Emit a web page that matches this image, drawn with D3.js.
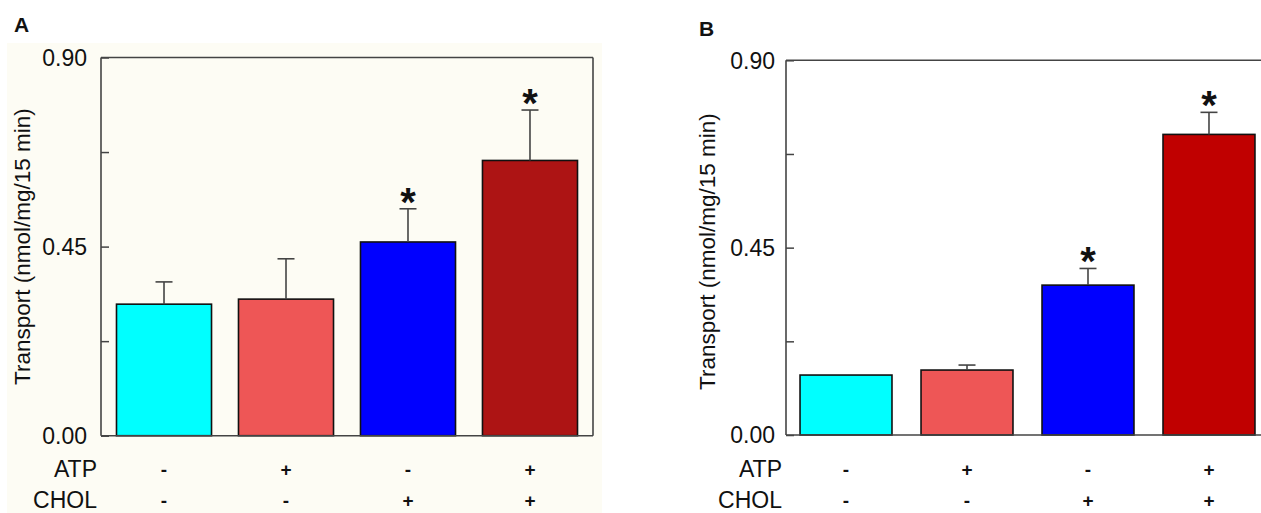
<!DOCTYPE html>
<html>
<head>
<meta charset="utf-8">
<script src="https://cdn.jsdelivr.net/npm/d3@7"></script>
<style>
  html, body { margin: 0; padding: 0; background: #ffffff; }
  svg { display: block; }
  text { font-family: "Liberation Sans", Arial, sans-serif; fill: #111; }
</style>
</head>
<body>
<svg id="chart" width="1261" height="513"></svg>
<script>
// ---------- data ----------
const categories = ["c1", "c2", "c3", "c4"];
const atpSigns  = ["-", "+", "-", "+"];
const cholSigns = ["-", "-", "+", "+"];
const rowLabels = ["ATP", "CHOL"];

const valuesA = [0.313, 0.325, 0.461, 0.655];
const errorsA = [0.053, 0.096, 0.079, 0.120];
const signifA = [false, false, true, true];

const valuesB = [0.144, 0.156, 0.360, 0.722];
const errorsB = [0.000, 0.012, 0.040, 0.053];
const signifB = [false, false, true, true];

const colorsA = ["#00ffff", "#ee5656", "#0000ff", "#ad1414"];
const colorsB = ["#00ffff", "#ee5656", "#0000ff", "#c00000"];

const yMajorTicks = [0, 0.45, 0.90];
const yMinorTicks = [0.225, 0.675];
const yTitle = "Transport (nmol/mg/15 min)";
const yMax = 0.90;

// ---------- drawing ----------
const svg = d3.select("#chart");

function drawPanel(p) {
  const g = svg.append("g");
  if (p.bg) {
    g.append("rect").attr("x", p.bg[0]).attr("y", p.bg[1])
      .attr("width", p.bg[2]).attr("height", p.bg[3]).attr("fill", p.bgColor);
  }
  const x = d3.scaleBand().domain(categories).range([p.left, p.right])
    .paddingInner(p.padIn).paddingOuter(p.padOut);
  const y = d3.scaleLinear().domain([0, yMax]).range([p.bottom, p.top]);

  const axisColor = "#444";

  // bars
  g.selectAll("rect.bar").data(categories).enter().append("rect")
    .attr("class", "bar")
    .attr("x", d => x(d))
    .attr("width", x.bandwidth())
    .attr("y", (d, i) => y(p.values[i]))
    .attr("height", (d, i) => y(0) - y(p.values[i]))
    .attr("fill", (d, i) => p.colors[i])
    .attr("stroke", "#111").attr("stroke-width", 1.6);

  // error bars (upper only)
  categories.forEach((c, i) => {
    if (p.errors[i] <= 0) return;
    const cx = x(c) + x.bandwidth() / 2;
    const yTop = y(p.values[i] + p.errors[i]);
    g.append("line").attr("x1", cx).attr("x2", cx)
      .attr("y1", y(p.values[i])).attr("y2", yTop)
      .attr("stroke", "#444").attr("stroke-width", 1.6);
    g.append("line").attr("x1", cx - 8.5).attr("x2", cx + 8.5)
      .attr("y1", yTop).attr("y2", yTop)
      .attr("stroke", "#444").attr("stroke-width", 1.6);
    if (p.signif[i]) {
      g.append("text").attr("x", cx).attr("y", yTop + 7)
        .attr("text-anchor", "middle")
        .attr("font-size", 40).attr("font-weight", "bold")
        .text("*");
    }
  });

  // y axis with inward ticks
  const yAxis = d3.axisRight(y).tickValues(yMajorTicks).tickFormat("").tickSize(8).tickSizeOuter(0);
  const ya = g.append("g").attr("transform", `translate(${p.left},0)`).call(yAxis);
  ya.select(".domain").remove();
  ya.selectAll("line").attr("stroke", axisColor).attr("stroke-width", 1.5);
  const yMinorAxis = d3.axisRight(y).tickValues(yMinorTicks).tickFormat("").tickSize(8).tickSizeOuter(0);
  const ym = g.append("g").attr("transform", `translate(${p.left},0)`).call(yMinorAxis);
  ym.select(".domain").remove();
  ym.selectAll("line").attr("stroke", axisColor).attr("stroke-width", 1.5);

  // tick labels
  g.selectAll("text.ytick").data(yMajorTicks).enter().append("text")
    .attr("class", "ytick")
    .attr("x", p.left - p.labelGap).attr("y", d => y(d))
    .attr("dy", "0.36em").attr("text-anchor", "end")
    .attr("font-size", 23).text(d3.format(".2f"));

  // frame lines
  g.append("line").attr("x1", p.left).attr("x2", p.left).attr("y1", p.top).attr("y2", p.bottom)
    .attr("stroke", axisColor).attr("stroke-width", 1.6);
  g.append("line").attr("x1", p.left).attr("x2", p.frameRight).attr("y1", p.bottom).attr("y2", p.bottom)
    .attr("stroke", axisColor).attr("stroke-width", 1.6);
  g.append("line").attr("x1", p.left).attr("x2", p.frameRight).attr("y1", p.top).attr("y2", p.top)
    .attr("stroke", axisColor).attr("stroke-width", 1.6);
  if (p.rightLine) {
    g.append("line").attr("x1", p.frameRight).attr("x2", p.frameRight).attr("y1", p.top).attr("y2", p.bottom)
      .attr("stroke", axisColor).attr("stroke-width", 1.6);
  }

  // y title
  g.append("text")
    .attr("transform", `translate(${p.titleX},${(p.top + p.bottom) / 2 + p.titleDy}) rotate(-90)`)
    .attr("text-anchor", "middle").attr("font-size", 22.5)
    .text(yTitle);

  // row labels & signs
  const rows = [atpSigns, cholSigns];
  rows.forEach((signs, r) => {
    g.append("text").attr("x", p.rowLabelRight).attr("y", p.rowY[r])
      .attr("text-anchor", "end").attr("font-size", 23).text(rowLabels[r]);
    g.selectAll(null).data(categories).enter().append("text")
      .attr("x", d => x(d) + x.bandwidth() / 2)
      .attr("y", p.rowY[r] - 1)
      .attr("text-anchor", "middle").attr("font-size", 19)
      .attr("font-weight", "bold")
      .text((d, i) => signs[i]);
  });

  // panel letter
  g.append("text").attr("x", p.letterX).attr("y", p.letterY)
    .attr("font-size", 21).attr("font-weight", "bold").text(p.letter);
}

drawPanel({
  letter: "A", letterX: 14, letterY: 32,
  bg: [7, 43, 595, 470], bgColor: "#fdfcf4",
  left: 101, right: 593, top: 57.5, bottom: 435.7, frameRight: 593, rightLine: true,
  padIn: 0.221, padOut: 0.127, labelGap: 14,
  values: valuesA, errors: errorsA, signif: signifA, colors: colorsA,
  titleX: 30, titleDy: 0, rowLabelRight: 97, rowY: [477, 508]
});

drawPanel({
  letter: "B", letterX: 699, letterY: 36,
  bg: null,
  left: 786, right: 1269, top: 60.3, bottom: 435, frameRight: 1261, rightLine: false,
  padIn: 0.24, padOut: 0.116, labelGap: 11,
  values: valuesB, errors: errorsB, signif: signifB, colors: colorsB,
  titleX: 715, titleDy: 4, rowLabelRight: 782, rowY: [477, 508]
});
</script>
</body>
</html>
